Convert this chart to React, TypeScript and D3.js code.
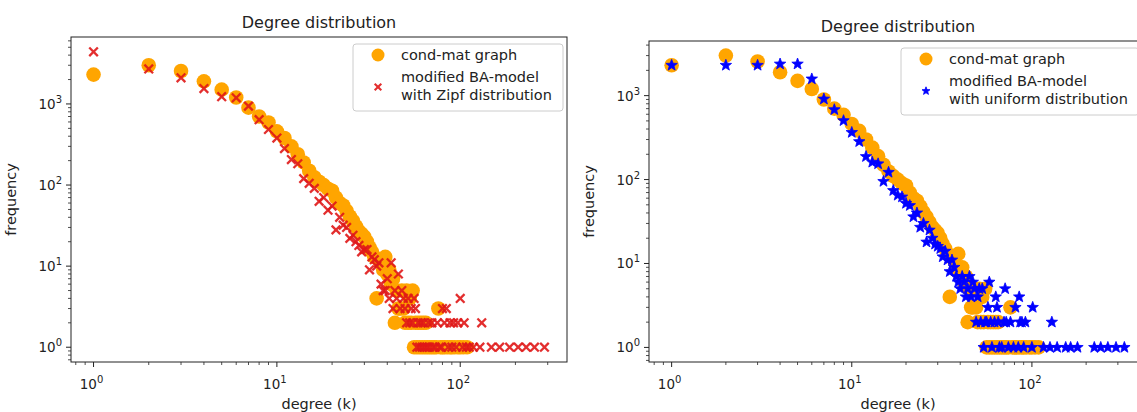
import React from 'react';
import * as d3 from 'd3';

// ---------- data ----------
const condMatK = [1,2,3,4,5,6,7,8,9,10,11,12,13,14,15,16,17,18,19,20,21,22,23,24,25,26,27,28,29,30,31,32,33,34,35,36,37,38,39,40,41,42,43,44,45,46,47,48,49,50,51,52,53,54,55,56,57,58,59,60,61,62,63,64,65,66,68,70,72,74,76,78,80,82,85,88,90,93,97,100,104,109];
const condMatF = [2300,3000,2550,1900,1500,1200,900,700,590,460,380,300,240,190,150,125,110,100,90,85,70,60,56,48,41,36,31,27,25,23,20,17,15,13,4,12,11,9,13,8,9,6,7,2,5,3,3,5,3,2,5,2,4,2,5,1,2,1,2,1,2,1,2,1,2,1,1,1,1,1,3,1,1,1,1,1,1,1,1,1,1,1];

const zipfK = [1,2,3,4,5,6,7,8,9,10,11,12,13,14,15,16,17,18,19,20,21,22,23,24,25,26,27,28,29,30,31,32,33,34,35,36,37,38,39,40,41,42,43,44,45,46,47,48,49,50,51,52,53,54,55,56,57,58,59,60,61,62,63,64,66,67,68,70,71,73,75,77,79,80,82,84,86,88,90,92,95,97,100,103,105,108,112,118,128,131,148,164,186,207,229,254,288];
const zipfF = [4400,2700,2100,1550,1230,1190,940,640,484,380,282,206,183,120,105,91,63,70,49,55,28,40,32,30,22,24,20,18,15,16,16,9,13,12,10,11,6,5,5,7,4,11,3,5,4,8,3,5,4,3,2,4,2,3,2,4,3,1,2,1,2,1,2,1,1,2,1,2,1,1,2,1,1,3,2,3,1,2,1,2,1,2,4,1,2,1,1,1,1,2,1,1,1,1,1,1,1];

const uniformK = [1,2,3,4,5,6,7,8,9,10,11,12,13,14,15,16,17,18,19,20,21,22,23,24,25,26,27,28,29,30,31,32,33,34,35,36,37,38,39,40,41,42,43,44,45,46,47,48,49,50,51,52,53,54,55,56,57,58,59,60,62,63,64,65,66,68,70,71,72,74,76,79,81,84,85,86,88,90,92,100,101,116,126,129,138,154,164,179,222,241,264,293,326];
const uniformF = [2300,2300,2300,2380,2380,1580,910,680,503,364,283,188,161,154,95,122,74,65,62,52,49,36,40,27,30,18,25,20,17,16,15,12,14,11,8,11,9,7,6,5,7,6,4,5,7,4,6,5,2,4,5,2,5,1,2,2,3,6,2,1,2,4,3,2,1,1,2,5,2,1,2,1,3,1,4,2,2,1,2,1,3,1,1,2,1,1,1,1,1,1,1,1,1];

const xTickExps = [0, 1, 2];
const yTickExps = [0, 1, 2, 3];
const titleText = 'Degree distribution';
const xLabelText = 'degree (k)';
const yLabelText = 'frequency';
const condMatLabel = ['cond-mat graph'];
const zipfLabel = ['modified BA-model', 'with Zipf distribution'];
const uniformLabel = ['modified BA-model', 'with uniform distribution'];

// ---------- style ----------
const FONT = 'DejaVu Sans, Verdana, sans-serif';
const ORANGE = '#FFA500';
const RED = '#e01818';
const BLUE = '#0000FF';
const TXT = '#222';

function logDomain(vals: number[]): [number, number] {
  const lo = Math.log10(d3.min(vals) as number);
  const hi = Math.log10(d3.max(vals) as number);
  const m = (hi - lo) * 0.05;
  return [Math.pow(10, lo - m), Math.pow(10, hi + m)];
}

function starPath(R: number) {
  const r = R * 0.42;
  let d = '';
  for (let i = 0; i < 10; i++) {
    const a = -Math.PI / 2 + (i * Math.PI) / 5;
    const rr = i % 2 === 0 ? R : r;
    d += (i ? 'L' : 'M') + (rr * Math.cos(a)).toFixed(2) + ',' + (rr * Math.sin(a)).toFixed(2);
  }
  return d + 'Z';
}

function Pow10({ x, y, e, anchor }: { x: number; y: number; e: number; anchor: string }) {
  return (
    <text x={x} y={y} textAnchor={anchor} fontFamily={FONT} fontSize={13.5} fill={TXT}>
      <tspan>10</tspan>
      <tspan dy={-6} fontSize={10}>{e}</tspan>
    </text>
  );
}

type Series = { k: number[]; f: number[]; kind: 'circle' | 'x' | 'star' };

function Marker({ kind, x, y, legend }: { kind: string; x: number; y: number; legend?: boolean }) {
  if (kind === 'circle') {
    return <circle cx={x} cy={y} r={legend ? 6.5 : 7.3} fill={ORANGE} />;
  }
  if (kind === 'x') {
    const s = legend ? 3.3 : 4.3;
    return (
      <g stroke={RED} strokeWidth={legend ? 2.1 : 2.3} opacity={0.9}>
        <line x1={x - s} y1={y - s} x2={x + s} y2={y + s} />
        <line x1={x - s} y1={y + s} x2={x + s} y2={y - s} />
      </g>
    );
  }
  return (
    <path d={starPath(legend ? 4.2 : 6)} transform={`translate(${x},${y})`} fill={BLUE} stroke={BLUE} strokeWidth={0.8} strokeLinejoin="miter" />
  );
}

function Panel({
  x0, x1, y0, y1, series, legendBox, legendLabels,
}: {
  x0: number; x1: number; y0: number; y1: number;
  series: Series[];
  legendBox: { x: number; y: number; w: number; h: number };
  legendLabels: string[][];
}) {
  const allK = series.flatMap((s) => s.k);
  const allF = series.flatMap((s) => s.f);
  const xs = d3.scaleLog().domain(logDomain(allK)).range([x0, x1]);
  const ys = d3.scaleLog().domain(logDomain(allF)).range([y1, y0]);

  const minorTicks = (sc: d3.ScaleLogarithmic<number, number>) => {
    const [a, b] = sc.domain();
    const out: number[] = [];
    for (let d = Math.floor(Math.log10(a)); d <= Math.ceil(Math.log10(b)); d++) {
      for (let m = 2; m <= 9; m++) {
        const v = m * Math.pow(10, d);
        if (v >= a && v <= b) out.push(v);
      }
    }
    return out;
  };

  const cx = (x0 + x1) / 2;
  const clipId = `clip-${x0}`;
  const lb = legendBox;
  const LF = 14.5;

  return (
    <g>
      <defs>
        <clipPath id={clipId}>
          <rect x={x0} y={y0} width={x1 - x0} height={y1 - y0} />
        </clipPath>
      </defs>
      <rect x={x0} y={y0} width={x1 - x0} height={y1 - y0} fill="#fff" />
      <g clipPath={`url(#${clipId})`}>
        {series.map((s, si) => (
          <g key={si}>
            {s.k.map((k, i) => (
              <Marker key={i} kind={s.kind} x={xs(k)} y={ys(s.f[i])} />
            ))}
          </g>
        ))}
      </g>
      {/* ticks */}
      <g stroke={TXT} strokeWidth={1}>
        {xTickExps.map((e) => {
          const x = xs(Math.pow(10, e));
          return <line key={'xM' + e} x1={x} x2={x} y1={y1} y2={y1 + 5} />;
        })}
        {minorTicks(xs).map((v, i) => {
          const x = xs(v);
          return <line key={'xm' + i} x1={x} x2={x} y1={y1} y2={y1 + 3} strokeWidth={0.8} />;
        })}
        {yTickExps.map((e) => {
          const y = ys(Math.pow(10, e));
          return <line key={'yM' + e} x1={x0 - 5} x2={x0} y1={y} y2={y} />;
        })}
        {minorTicks(ys).map((v, i) => {
          const y = ys(v);
          return <line key={'ym' + i} x1={x0 - 3} x2={x0} y1={y} y2={y} strokeWidth={0.8} />;
        })}
      </g>
      {xTickExps.map((e) => (
        <Pow10 key={'xl' + e} x={xs(Math.pow(10, e)) - 2} y={y1 + 27} e={e} anchor="middle" />
      ))}
      {yTickExps.map((e) => (
        <Pow10 key={'yl' + e} x={x0 - 9} y={ys(Math.pow(10, e)) + 5} e={e} anchor="end" />
      ))}
      <rect x={x0} y={y0} width={x1 - x0} height={y1 - y0} fill="none" stroke={TXT} strokeWidth={1} />
      {/* title and labels */}
      <text x={cx} y={y0 - 9} textAnchor="middle" fontFamily={FONT} fontSize={16} fill={TXT}>{titleText}</text>
      <text x={cx} y={y1 + 47} textAnchor="middle" fontFamily={FONT} fontSize={LF} fill={TXT}>{xLabelText}</text>
      <text transform={`translate(${x0 - 55},${(y0 + y1) / 2}) rotate(-90)`} textAnchor="middle" fontFamily={FONT} fontSize={LF} fill={TXT}>{yLabelText}</text>
      {/* legend */}
      <rect x={lb.x} y={lb.y} width={lb.w} height={lb.h} rx={3} fill="#fff" fillOpacity={0.8} stroke="#cccccc" strokeWidth={1} />
      <Marker kind={series[0].kind} x={lb.x + 25} y={lb.y + 11} legend />
      <text x={lb.x + 48} y={lb.y + 16} fontFamily={FONT} fontSize={LF} fill={TXT}>{legendLabels[0][0]}</text>
      <Marker kind={series[1].kind} x={lb.x + 25} y={lb.y + 43} legend />
      <text x={lb.x + 48} y={lb.y + 38} fontFamily={FONT} fontSize={LF} fill={TXT}>{legendLabels[1][0]}</text>
      <text x={lb.x + 48} y={lb.y + 56} fontFamily={FONT} fontSize={LF} fill={TXT}>{legendLabels[1][1]}</text>
    </g>
  );
}

export default function App() {
  return (
    <svg width={1137} height={412} style={{ position: 'absolute', left: 0, top: 0, background: '#fff' }}>
      <rect x={0} y={0} width={1137} height={412} fill="#fff" />
      <Panel
        x0={71} x1={567} y0={37} y1={362}
        series={[
          { k: condMatK, f: condMatF, kind: 'circle' },
          { k: zipfK, f: zipfF, kind: 'x' },
        ]}
        legendBox={{ x: 353, y: 44, w: 210, h: 67 }}
        legendLabels={[condMatLabel, zipfLabel]}
      />
      <Panel
        x0={649} x1={1147} y0={41} y1={362}
        series={[
          { k: condMatK, f: condMatF, kind: 'circle' },
          { k: uniformK, f: uniformF, kind: 'star' },
        ]}
        legendBox={{ x: 901, y: 48, w: 238, h: 67 }}
        legendLabels={[condMatLabel, uniformLabel]}
      />
    </svg>
  );
}
